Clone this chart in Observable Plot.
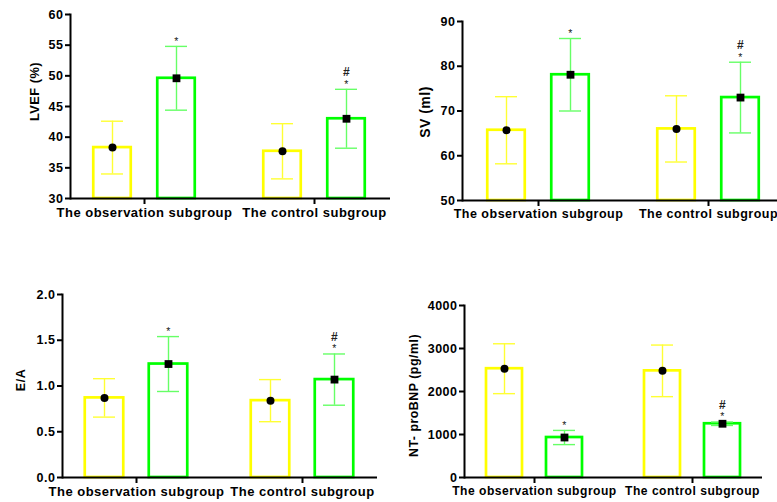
<!DOCTYPE html>
<html><head><meta charset="utf-8">
<script src="https://cdn.jsdelivr.net/npm/d3@7"></script>
<script src="https://cdn.jsdelivr.net/npm/@observablehq/plot@0.6"></script>
<style>
body{margin:0;background:#fff}
#wrap{position:relative;width:777px;height:502px;overflow:hidden;background:#fff}
#wrap svg{position:absolute}
#wrap svg text{letter-spacing:0.5px}
</style></head><body><div id="wrap"></div>
<script>
// ---- data ----
const groups = ["The observation subgroup", "The control subgroup"];
const lvefPre = [38.3, 37.7], lvefPreSD = [4.3, 4.5], lvefPost = [49.6, 43.0], lvefPostSD = [5.2, 4.8];
const svPre = [65.7, 66.0], svPreSD = [7.5, 7.4], svPost = [78.1, 73.0], svPostSD = [8.1, 7.9];
const eaPre = [0.87, 0.84], eaPreSD = [0.21, 0.23], eaPost = [1.24, 1.07], eaPostSD = [0.30, 0.28];
const bnpPre = [2530, 2480], bnpPreSD = [580, 600], bnpPost = [930, 1250], bnpPostSD = [165, 40];
const starMarks = ["*", "*"];
const hashMarks = ["", "#"];
const lvefTicks = [30, 35, 40, 45, 50, 55, 60];
const svTicks = [50, 60, 70, 80, 90];
const eaTicks = [0, 0.5, 1, 1.5, 2];
const bnpTicks = [0, 1000, 2000, 3000, 4000];
const labels = ["LVEF (%)", "SV (ml)", "E/A", "NT- proBNP (pg/ml)"];

// ---- layout ----
const YELLOW = "#ffff00", YELLOW_ERR = "#ffff33", GREEN = "#00ff00", GREEN_ERR = "#66ff66";
const FONT = "'Liberation Sans', Arial, sans-serif";

function panel(cfg, label, ticks, fmt, pre, preSD, post, postSD) {
  const rows = groups.map((g, i) => ({g, pre: pre[i], preSD: preSD[i], post: post[i], postSD: postSD[i], star: starMarks[i], hash: hashMarks[i]}));
  const ymin = ticks[0], ymax = ticks[ticks.length - 1];
  const step = (cfg.xr[1] - cfg.xr[0]) / groups.length;
  const barInset = (step - cfg.bw) / 2;
  const capInset = (step - cfg.cap) / 2;
  const o = cfg.off;
  const p = Plot.plot({
    width: cfg.w, height: cfg.h,
    marginLeft: cfg.mL, marginRight: cfg.mR, marginTop: cfg.mT, marginBottom: cfg.mB,
    x: {domain: groups, range: cfg.xr, padding: 0, axis: null},
    y: {domain: [ymin, ymax], axis: null},
    style: {fontFamily: FONT, fontWeight: "bold", color: "#000", background: "transparent", overflow: "visible"},
    marks: [
      Plot.barY(rows, {x: "g", y1: () => ymin, y2: "pre", dx: -o, insetLeft: barInset, insetRight: barInset, fill: "white", stroke: YELLOW, strokeWidth: 2.7}),
      Plot.barY(rows, {x: "g", y1: () => ymin, y2: "post", dx: o, insetLeft: barInset, insetRight: barInset, fill: "white", stroke: GREEN, strokeWidth: 2.7}),
      Plot.ruleX(rows, {x: "g", y1: d => d.pre - d.preSD, y2: d => d.pre + d.preSD, dx: -o, stroke: YELLOW_ERR, strokeWidth: 1.4}),
      Plot.tickY(rows, {x: "g", y: d => d.pre + d.preSD, dx: -o, insetLeft: capInset, insetRight: capInset, stroke: YELLOW_ERR, strokeWidth: 1.4}),
      Plot.tickY(rows, {x: "g", y: d => d.pre - d.preSD, dx: -o, insetLeft: capInset, insetRight: capInset, stroke: YELLOW_ERR, strokeWidth: 1.4}),
      Plot.ruleX(rows, {x: "g", y1: d => d.post - d.postSD, y2: d => d.post + d.postSD, dx: o, stroke: GREEN_ERR, strokeWidth: 1.4}),
      Plot.tickY(rows, {x: "g", y: d => d.post + d.postSD, dx: o, insetLeft: capInset, insetRight: capInset, stroke: GREEN_ERR, strokeWidth: 1.4}),
      Plot.tickY(rows, {x: "g", y: d => d.post - d.postSD, dx: o, insetLeft: capInset, insetRight: capInset, stroke: GREEN_ERR, strokeWidth: 1.4}),
      Plot.dot(rows, {x: "g", y: "pre", dx: -o, r: 4, fill: "black", symbol: "circle"}),
      Plot.dot(rows, {x: "g", y: "post", dx: o, r: 4.4, fill: "black", symbol: "square"}),
      Plot.text(rows, {x: "g", y: d => d.post + d.postSD, dx: o, dy: -5, text: "star", fontSize: 10.5, fontWeight: "normal", fill: "#222"}),
      Plot.text(rows, {x: "g", y: d => d.post + d.postSD, dx: o, dy: -17, text: "hash", fontSize: 12, fontWeight: "bold", fill: "#222"}),
      Plot.ruleY([ymin], {stroke: "black", strokeWidth: 2}),
      Plot.frame({anchor: "left", stroke: "black", strokeWidth: 2}),
      Plot.axisY({ticks, tickFormat: fmt, tickSize: 5, tickPadding: 2, fontSize: 12.5, fontWeight: "bold", strokeWidth: 2, label: null}),
      Plot.axisX({tickSize: 6, tickPadding: 3, fontSize: cfg.xfs, fontWeight: "bold", strokeWidth: 2, label: null}),
      Plot.text([label], {frameAnchor: "left", textAnchor: "middle", rotate: -90, dx: cfg.ldx, dy: cfg.ldy, fontSize: cfg.lfs, fontWeight: "bold"})
    ]
  });
  p.style.left = cfg.left + "px";
  p.style.top = cfg.top + "px";
  document.getElementById("wrap").appendChild(p);
}

panel({left: 0, top: 0, w: 390, h: 230, mL: 70, mR: 0, mT: 14, mB: 32, xr: [58.5, 398.5], off: 32, bw: 37.5, cap: 22, ldx: -36, ldy: -15, lfs: 12.8, xfs: 13},
  labels[0], lvefTicks, d3.format("d"), lvefPre, lvefPreSD, lvefPost, lvefPostSD);
panel({left: 390, top: 0, w: 387, h: 230, mL: 72, mR: 0, mT: 21, mB: 30, xr: [63, 403], off: 32, bw: 37.5, cap: 22, ldx: -37, ldy: 1, lfs: 14, xfs: 12.5},
  labels[1], svTicks, d3.format("d"), svPre, svPreSD, svPost, svPostSD);
panel({left: 0, top: 270, w: 390, h: 232, mL: 62, mR: 13, mT: 24, mB: 25, xr: [53, 385], off: 32, bw: 38.5, cap: 22, ldx: -42, ldy: -6, lfs: 12.5, xfs: 13},
  labels[2], eaTicks, d3.format(".1f"), eaPre, eaPreSD, eaPost, eaPostSD);
panel({left: 390, top: 270, w: 387, h: 232, mL: 74, mR: 15, mT: 35, mB: 25, xr: [65, 381], off: 30, bw: 36, cap: 22, ldx: -50, ldy: 4, lfs: 12.4, xfs: 12.1},
  labels[3], bnpTicks, d3.format("d"), bnpPre, bnpPreSD, bnpPost, bnpPostSD);
</script></body></html>
